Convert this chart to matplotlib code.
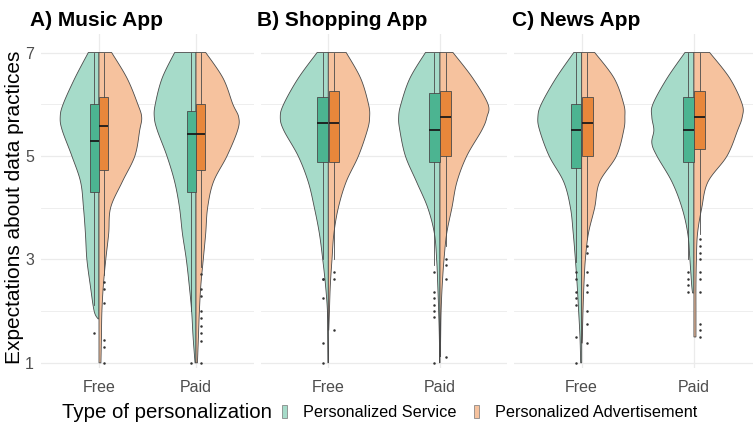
import numpy as np
import matplotlib
matplotlib.use("Agg")
import matplotlib.pyplot as plt
from matplotlib.patches import Patch, Polygon

plt.rcParams['font.family'] = ['Liberation Sans', 'DejaVu Sans']

# ---------------- data ----------------
APPS = ["A) Music App", "B) Shopping App", "C) News App"]
PLANS = ["Free", "Paid"]
TYPES = ["Personalized Service", "Personalized Advertisement"]
Y_TICKS = [1, 3, 5, 7]

# violin half-width profiles (y value, half width in category units)
MUSIC_FREE_SVC_Y = [1.85, 2, 2.5, 3, 3.5, 4, 4.5, 5, 5.5, 5.75, 6, 6.5, 7]
MUSIC_FREE_SVC_W = [0.01, 0.05, 0.09, 0.125, 0.14, 0.16, 0.19, 0.28, 0.38, 0.40, 0.37, 0.25, 0.11]
MUSIC_FREE_ADV_Y = [1, 1.5, 2, 2.5, 3, 3.5, 4, 4.5, 5, 5.5, 5.75, 6, 6.5, 7]
MUSIC_FREE_ADV_W = [0.02, 0.025, 0.03, 0.045, 0.07, 0.10, 0.12, 0.24, 0.37, 0.42, 0.44, 0.40, 0.29, 0.13]
MUSIC_PAID_SVC_Y = [1, 1.5, 2, 2.5, 3, 3.5, 4, 4.5, 5, 5.5, 5.75, 6, 6.5, 7]
MUSIC_PAID_SVC_W = [0.01, 0.03, 0.045, 0.07, 0.10, 0.14, 0.17, 0.22, 0.30, 0.40, 0.43, 0.42, 0.35, 0.22]
MUSIC_PAID_ADV_Y = [1, 1.5, 2, 2.5, 3, 3.5, 4, 4.5, 5, 5.5, 5.75, 6, 6.5, 7]
MUSIC_PAID_ADV_W = [0.015, 0.025, 0.035, 0.05, 0.075, 0.10, 0.12, 0.18, 0.32, 0.43, 0.44, 0.38, 0.28, 0.10]

SHOP_FREE_SVC_Y = [1, 1.5, 2, 2.5, 3, 3.5, 4, 4.5, 5, 5.5, 5.75, 6, 6.5, 7]
SHOP_FREE_SVC_W = [0.003, 0.005, 0.008, 0.025, 0.05, 0.08, 0.125, 0.18, 0.27, 0.40, 0.43, 0.40, 0.27, 0.10]
SHOP_FREE_ADV_Y = [1.63, 2, 2.5, 3, 3.5, 4, 4.5, 5, 5.5, 5.75, 6, 6.5, 7]
SHOP_FREE_ADV_W = [0.004, 0.01, 0.018, 0.033, 0.05, 0.09, 0.16, 0.27, 0.35, 0.37, 0.36, 0.29, 0.16]
SHOP_PAID_SVC_Y = [1, 1.5, 2, 2.5, 3, 3.5, 4, 4.5, 5, 5.5, 5.75, 6, 6.5, 7]
SHOP_PAID_SVC_W = [0.003, 0.006, 0.012, 0.02, 0.03, 0.05, 0.11, 0.21, 0.31, 0.36, 0.37, 0.35, 0.27, 0.13]
SHOP_PAID_ADV_Y = [1.12, 1.5, 2, 2.5, 3, 3.5, 4, 4.5, 5, 5.5, 5.75, 6, 6.5, 7]
SHOP_PAID_ADV_W = [0.004, 0.006, 0.01, 0.02, 0.036, 0.06, 0.107, 0.152, 0.24, 0.375, 0.42, 0.43, 0.295, 0.116]

NEWS_FREE_SVC_Y = [1, 1.5, 2, 2.5, 3, 3.5, 4, 4.5, 5, 5.5, 5.75, 6, 6.5, 7]
NEWS_FREE_SVC_W = [0.009, 0.015, 0.027, 0.04, 0.056, 0.075, 0.10, 0.16, 0.29, 0.375, 0.39, 0.36, 0.23, 0.07]
NEWS_FREE_ADV_Y = [1.38, 1.5, 2, 2.5, 3, 3.5, 4, 4.5, 5, 5.5, 5.75, 6, 6.5, 7]
NEWS_FREE_ADV_W = [0.004, 0.006, 0.012, 0.02, 0.033, 0.06, 0.116, 0.16, 0.31, 0.375, 0.385, 0.375, 0.29, 0.116]
NEWS_PAID_SVC_Y = [2.35, 2.5, 3, 3.5, 4, 4.5, 5, 5.25, 5.5, 5.75, 6, 6.5, 7]
NEWS_PAID_SVC_W = [0.012, 0.02, 0.036, 0.055, 0.107, 0.196, 0.33, 0.375, 0.357, 0.375, 0.366, 0.24, 0.08]
NEWS_PAID_ADV_Y = [1.5, 2, 2.5, 3, 3.5, 4, 4.5, 5, 5.5, 5.75, 6, 6.5, 7]
NEWS_PAID_ADV_W = [0.018, 0.018, 0.018, 0.022, 0.032, 0.07, 0.125, 0.295, 0.39, 0.43, 0.43, 0.32, 0.14]

# boxplot stats: q1, median, q3, lower whisker, upper whisker
MUSIC_BOX = [[4.30, 5.28, 6.00, 2.12, 7.0], [4.72, 5.57, 6.14, 2.70, 7.0],
             [4.30, 5.42, 5.87, 2.00, 7.0], [4.73, 5.42, 6.00, 2.86, 7.0]]
SHOP_BOX = [[4.88, 5.64, 6.14, 3.00, 7.0], [4.88, 5.64, 6.25, 3.00, 7.0],
            [4.88, 5.50, 6.22, 2.89, 7.0], [5.00, 5.76, 6.25, 3.25, 7.0]]
NEWS_BOX = [[4.77, 5.50, 6.00, 2.95, 7.0], [5.00, 5.64, 6.14, 3.40, 7.0],
            [4.88, 5.50, 6.14, 3.00, 7.0], [5.13, 5.76, 6.25, 3.50, 7.0]]

# outliers (order: Free-Service, Free-Advert, Paid-Service, Paid-Advert)
MUSIC_OUT = [[1.57], [2.57, 2.43, 2.15, 1.44, 1.30, 1.0],
             [1.0], [2.71, 2.43, 2.29, 2.0, 1.86, 1.72, 1.57, 1.43, 1.0]]
SHOP_OUT = [[2.62, 2.62, 2.25, 1.38, 1.0], [2.75, 2.62, 1.63],
            [2.75, 2.37, 2.25, 2.12, 2.0, 1.88, 1.0], [3.0, 2.89, 2.62, 1.12]]
NEWS_OUT = [[2.75, 2.62, 2.37, 2.25, 2.12, 1.5, 1.0],
            [3.26, 3.13, 2.75, 2.5, 2.37, 2.0, 1.75, 1.38],
            [2.75, 2.62, 2.5, 2.37],
            [3.39, 3.26, 3.13, 3.0, 2.75, 2.62, 2.37, 1.75, 1.63, 1.5]]

VIOLINS = [
    [(MUSIC_FREE_SVC_Y, MUSIC_FREE_SVC_W), (MUSIC_FREE_ADV_Y, MUSIC_FREE_ADV_W),
     (MUSIC_PAID_SVC_Y, MUSIC_PAID_SVC_W), (MUSIC_PAID_ADV_Y, MUSIC_PAID_ADV_W)],
    [(SHOP_FREE_SVC_Y, SHOP_FREE_SVC_W), (SHOP_FREE_ADV_Y, SHOP_FREE_ADV_W),
     (SHOP_PAID_SVC_Y, SHOP_PAID_SVC_W), (SHOP_PAID_ADV_Y, SHOP_PAID_ADV_W)],
    [(NEWS_FREE_SVC_Y, NEWS_FREE_SVC_W), (NEWS_FREE_ADV_Y, NEWS_FREE_ADV_W),
     (NEWS_PAID_SVC_Y, NEWS_PAID_SVC_W), (NEWS_PAID_ADV_Y, NEWS_PAID_ADV_W)],
]
BOXES = [MUSIC_BOX, SHOP_BOX, NEWS_BOX]
OUTS = [MUSIC_OUT, SHOP_OUT, NEWS_OUT]

# ---------------- style ----------------
VIO_COL = ['#a6dbc9', '#f6c29e']
BOX_COL = ['#4cb491', '#e8873b']
EDGE = '#4a4a4a'
GRID = '#ebebeb'
TICK_COL = '#4d4d4d'


def smooth(y, w, n=10):
    P = np.column_stack([y, w]).astype(float)
    P = np.vstack([P[0], P, P[-1]])
    out = []
    t = np.linspace(0, 1, n, endpoint=False)[:, None]
    for i in range(1, len(P) - 2):
        p0, p1, p2, p3 = P[i - 1], P[i], P[i + 1], P[i + 2]
        pts = 0.5 * ((2 * p1) + (-p0 + p2) * t + (2 * p0 - 5 * p1 + 4 * p2 - p3) * t ** 2
                     + (-p0 + 3 * p1 - 3 * p2 + p3) * t ** 3)
        out.append(pts)
    out.append(P[-2][None])
    R = np.vstack(out)
    R[:, 1] = np.clip(R[:, 1], 0, None)
    return R[:, 0], R[:, 1]


W, H = 753, 424
fig = plt.figure(figsize=(W / 100, H / 100), dpi=100)

# panel geometry in pixels: (left, width)
PANELS = [(40.8, 213.4), (261.3, 245.7), (514.3, 247.0)]
TITLE_X = [30, 257, 512]
top_px, bot_px = 34.4, 368.0
YLIM = (0.9, 7.35)

for k in range(3):
    left, width = PANELS[k]
    ax = fig.add_axes([left / W, 1 - bot_px / H, width / W, (bot_px - top_px) / H])
    ax.set_xlim(0.4, 2.6)
    ax.set_ylim(*YLIM)
    for s in ax.spines.values():
        s.set_visible(False)
    ax.set_yticks(Y_TICKS)
    ax.set_yticks([2, 4, 6], minor=True)
    ax.set_xticks([1, 2])
    ax.set_xticklabels(PLANS)
    ax.tick_params(length=0, which='both', colors=TICK_COL, labelsize=11.5)
    ax.tick_params(axis='x', pad=9)
    ax.tick_params(axis='y', pad=5)
    if k > 0:
        ax.set_yticklabels([])
    ax.grid(True, which='major', color=GRID, lw=0.9, zorder=0)
    ax.grid(True, which='minor', axis='y', color=GRID, lw=0.6, zorder=0)
    ax.set_axisbelow(True)

    for j in range(2):          # plan
        c = j + 1
        for t in range(2):      # type
            idx = j * 2 + t
            y, w = VIOLINS[k][idx]
            ys, ws = smooth(y, w)
            sign = -1 if t == 0 else 1
            xs = c + sign * ws
            poly = np.vstack([[c, ys[0]], np.column_stack([xs, ys]), [c, ys[-1]]])
            ax.add_patch(Polygon(poly, closed=True, facecolor=VIO_COL[t], edgecolor=EDGE,
                                 lw=0.6, zorder=2))
            q1, med, q3, lo, hi = BOXES[k][idx]
            stats = [dict(q1=q1, med=med, q3=q3, whislo=lo, whishi=hi, fliers=OUTS[k][idx])]
            pos = c + sign * 0.05
            ax.bxp(stats, positions=[pos], widths=0.095, patch_artist=True, showcaps=False,
                   boxprops=dict(facecolor=BOX_COL[t], edgecolor=EDGE, lw=0.6),
                   medianprops=dict(color='#1a1a1a', lw=1.3),
                   whiskerprops=dict(color=EDGE, lw=0.6),
                   flierprops=dict(marker='o', markersize=1.8, markerfacecolor='#333333',
                                   markeredgecolor='none'),
                   zorder=3, manage_ticks=False)
    ax.set_xlim(0.4, 2.6)
    ax.set_ylim(*YLIM)
    fig.text(TITLE_X[k] / W, 1 - 20 / H, APPS[k], fontsize=15, fontweight='bold',
             ha='left', va='center')

fig.text(15 / W, 1 - 207.6 / H, "Expectations about data practices", rotation=90,
         fontsize=15, ha='center', va='center')

fig.text(62 / W, 1 - 412 / H, "Type of personalization", fontsize=14.7, ha='left', va='center')
handles = [Patch(facecolor=VIO_COL[i], edgecolor='#777777', lw=0.5) for i in range(2)]
fig.legend(handles, TYPES, loc='center left', bbox_to_anchor=(282 / W, 1 - 412.5 / H), ncol=2,
           frameon=False, fontsize=11.7, handlelength=0.3, handleheight=0.9,
           handletextpad=1.0, columnspacing=1.05, borderpad=0, borderaxespad=0)

fig.savefig("out.png", dpi=100)
